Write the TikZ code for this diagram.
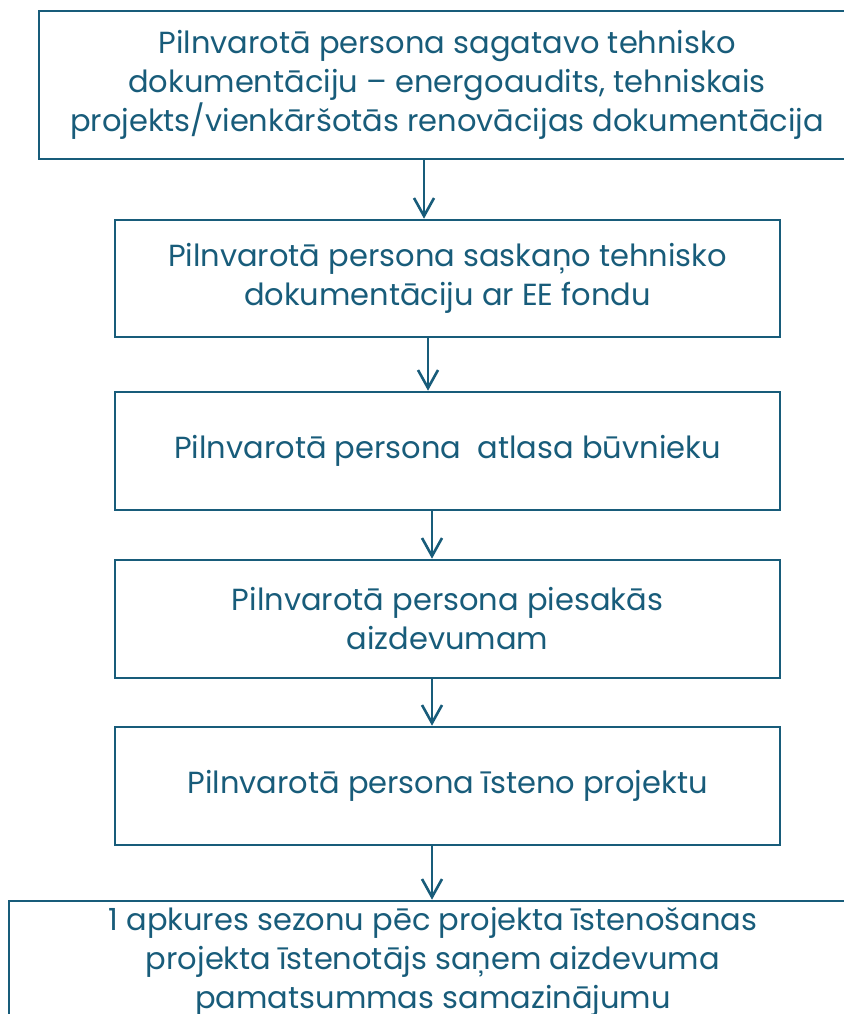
\documentclass[tikz,border=0pt]{standalone}
\usepackage{fontspec}
\setmainfont{Poppins}
\usetikzlibrary{arrows.meta}
\definecolor{petrol}{RGB}{24,92,122}

\begin{document}
\begin{tikzpicture}[x=1pt,y=-1pt,
    box/.style={draw=petrol,line width=2.6pt,text=petrol,align=center,inner sep=0pt,
        font=\fontsize{30.5}{39}\selectfont},
    arj/.style={draw=petrol,line width=2.6pt,-{Straight Barb[length=18pt,width=20pt]}}]
\useasboundingbox (0,0) rectangle (843,1014);
\node[box,minimum width=816pt,minimum height=148pt] (docs) at (447,85)
    {Pilnvarotā persona sagatavo tehnisko\\dokumentāciju – energoaudits, tehniskais\\projekts/vienkāršotās renovācijas dokumentācija};
\node[box,minimum width=665pt,minimum height=117pt] (agree) at (447.5,278.5)
    {Pilnvarotā persona saskaņo tehnisko\\dokumentāciju ar EE fondu};
\node[box,minimum width=665pt,minimum height=118pt] (builder) at (447.5,451)
    {Pilnvarotā persona~ atlasa būvnieku};
\node[box,minimum width=665pt,minimum height=118pt] (loan) at (447.5,619)
    {Pilnvarotā persona piesakās\\aizdevumam};
\node[box,minimum width=665pt,minimum height=118pt] (build) at (447.5,786)
    {Pilnvarotā persona īsteno projektu};
\node[box,minimum width=848pt,minimum height=122pt] (cut) at (433,962)
    {1 apkures sezonu pēc projekta īstenošanas\\projekta īstenotājs saņem aizdevuma\\pamatsummas samazinājumu};
% arrows between the steps
\draw[arj] ([xshift=-23pt]docs.south) -- ([xshift=-23pt]docs.south |- agree.north);
\draw[arj] ([xshift=-19.5pt]agree.south) -- ([xshift=-19.5pt]agree.south |- builder.north);
\draw[arj] ([xshift=-15.5pt]builder.south) -- ([xshift=-15.5pt]builder.south |- loan.north);
\draw[arj] ([xshift=-15.5pt]loan.south) -- ([xshift=-15.5pt]loan.south |- build.north);
\draw[arj] ([xshift=-15.5pt]build.south) -- ([xshift=-15.5pt]build.south |- cut.north);
\end{tikzpicture}
\end{document}
